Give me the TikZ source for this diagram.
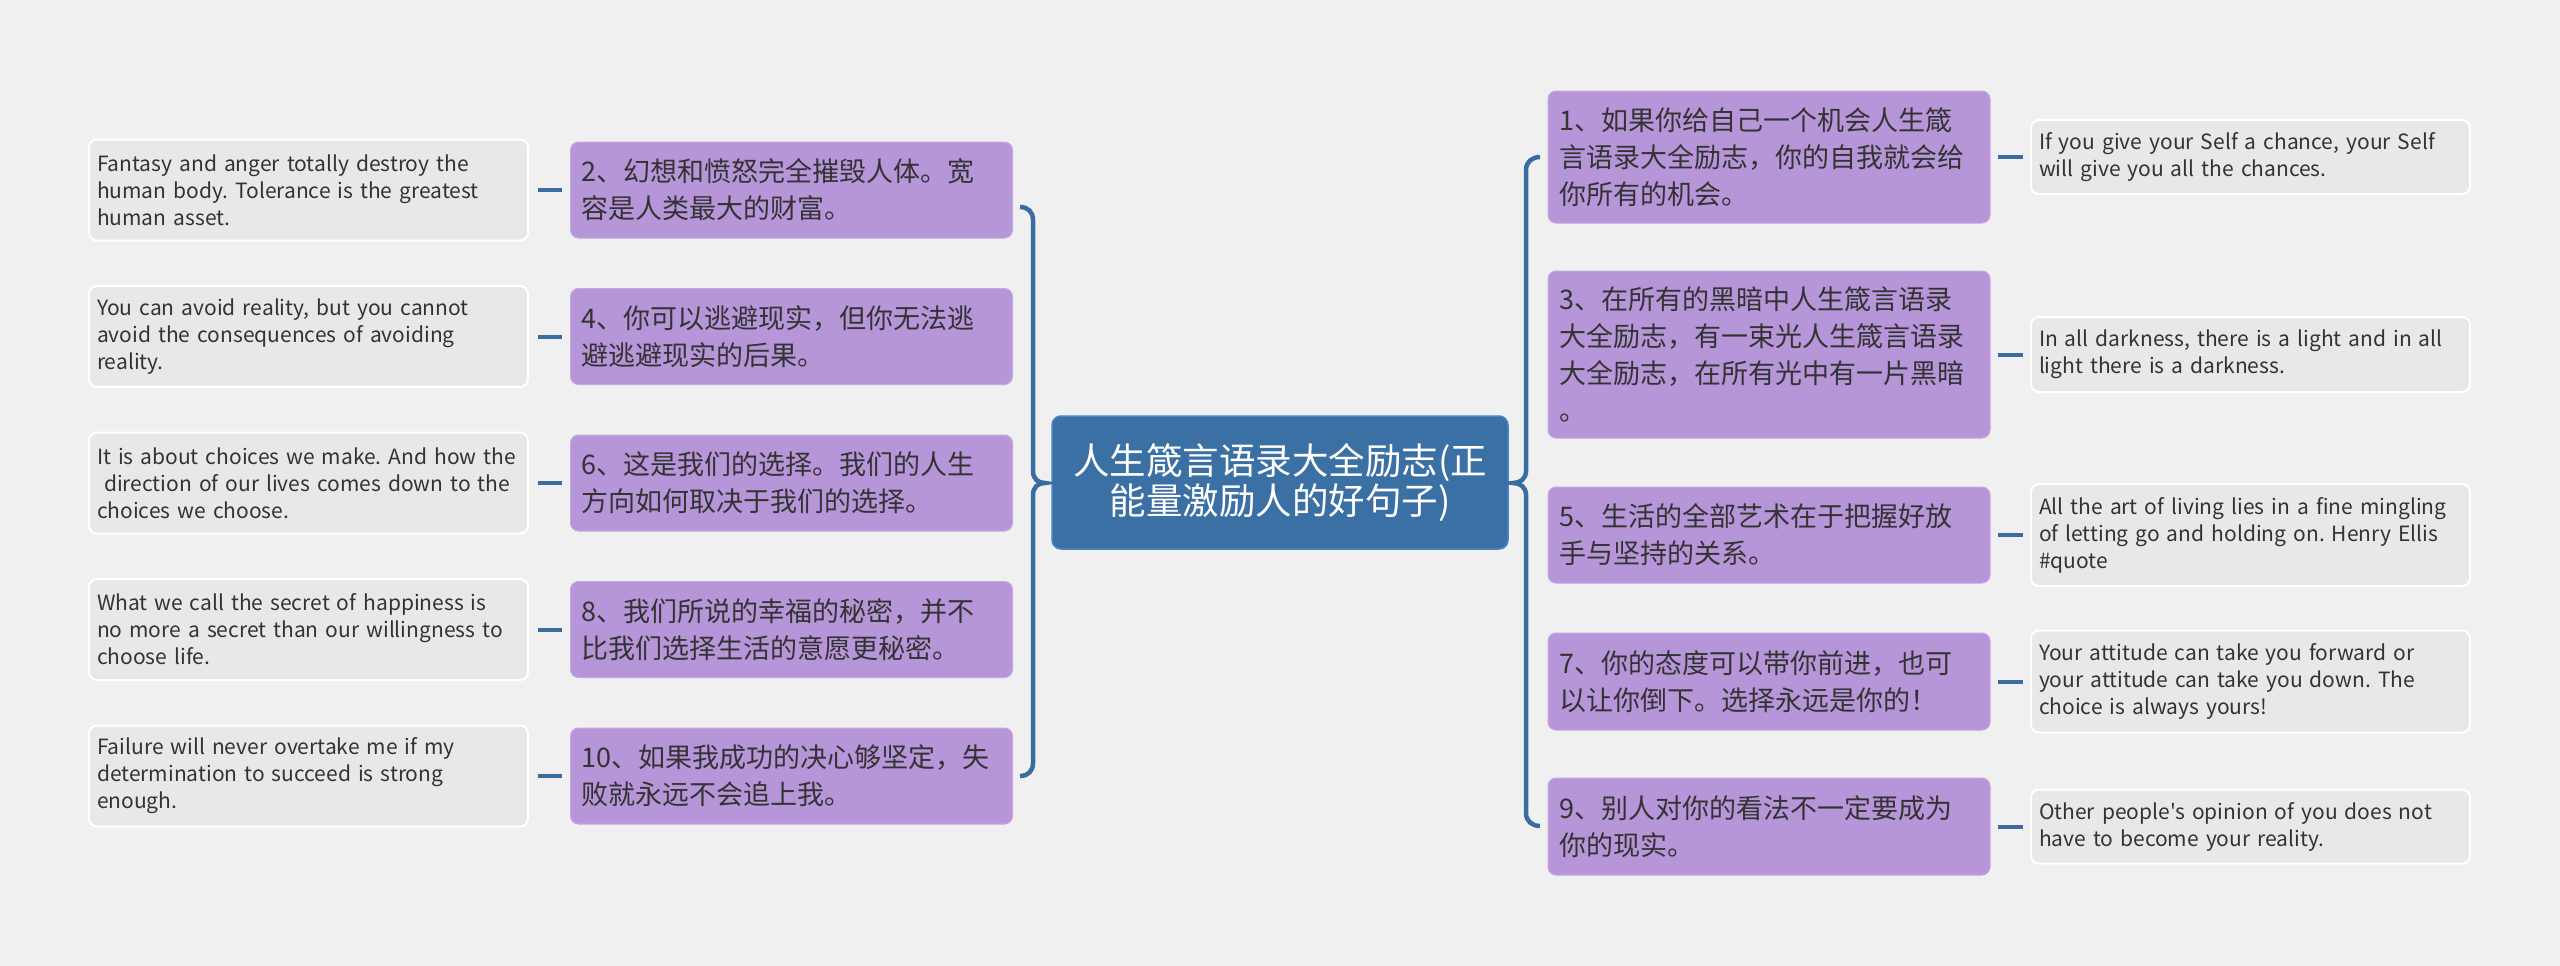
\documentclass[tikz,border=0pt]{standalone}
\usepackage{fontspec}
\setmainfont{Noto Sans CJK SC}
\newfontfamily\latinf{Noto Sans CJK SC}
\frenchspacing
\definecolor{bgc}{HTML}{F0F0F0}
\definecolor{bluec}{HTML}{3B70A4}
\definecolor{bluel}{HTML}{4A86C6}
\definecolor{linec}{HTML}{3A6D9F}
\definecolor{purc}{HTML}{B795D9}
\definecolor{purl}{HTML}{C3A8E0}
\definecolor{grayc}{HTML}{E8E8E8}
\definecolor{txtc}{HTML}{333333}
\begin{document}
\begin{tikzpicture}[x=1pt,y=-1pt,
  root/.style={rounded corners=9pt, fill=bluec, draw=bluel, line width=1.5pt, text=white,
    font=\fontsize{36.5}{40}\selectfont, align=center, minimum width=456pt, minimum height=133pt, inner sep=0pt},
  pbox/.style={rounded corners=8pt, fill=purc, draw=purl, line width=1pt, text=txtc,
    font=\fontsize{27}{37}\selectfont, align=left, text width=420pt, inner xsep=11pt, inner ysep=0pt},
  gbox/.style={rounded corners=8pt, fill=grayc, draw=white, line width=2pt, text=txtc,
    font=\latinf\fontsize{21}{27}\selectfont, align=left, text width=423pt, inner xsep=8pt, inner ysep=0pt},
  dashc/.style={draw=linec, line width=4pt},
  bracec/.style={draw=linec, line width=4.5pt}
]
\useasboundingbox[fill=bgc] (0,0) rectangle (2560,966);

% center
\node[root] (c) at (1280,482.5) {人生箴言语录大全励志(正\\能量激励人的好句子)};

% left purple
\node[pbox, minimum height=96pt] (p2) at (791.5,190) {2、幻想和愤怒完全摧毁人体。宽\\容是人类最大的财富。};
\node[pbox, minimum height=96pt] (p4) at (791.5,336.5) {4、你可以逃避现实，但你无法逃\\避逃避现实的后果。};
\node[pbox, minimum height=96pt] (p6) at (791.5,483) {6、这是我们的选择。我们的人生\\方向如何取决于我们的选择。};
\node[pbox, minimum height=96pt] (p8) at (791.5,629.5) {8、我们所说的幸福的秘密，并不\\比我们选择生活的意愿更秘密。};
\node[pbox, minimum height=96pt] (p10) at (791.5,776) {10、如果我成功的决心够坚定，失\\败就永远不会追上我。};

% left gray
\node[gbox, minimum height=101pt] (g2) at (308.5,190) {Fantasy and anger totally destroy the\\human body. Tolerance is the greatest\\human asset.};
\node[gbox, minimum height=101pt] (g4) at (308.5,336.5) {You can avoid reality, but you cannot\\avoid the consequences of avoiding\\reality.};
\node[gbox, minimum height=101pt] (g6) at (308.5,483) {It is about choices we make. And how the\\\ direction of our lives comes down to the\\choices we choose.};
\node[gbox, minimum height=101pt] (g8) at (308.5,629.5) {What we call the secret of happiness is\\no more a secret than our willingness to\\choose life.};
\node[gbox, minimum height=101pt] (g10) at (308.5,776) {Failure will never overtake me if my\\determination to succeed is strong\\enough.};

% right purple
\node[pbox, minimum height=132pt] (p1) at (1769,157) {1、如果你给自己一个机会人生箴\\言语录大全励志，你的自我就会给\\你所有的机会。};
\node[pbox, minimum height=167pt] (p3) at (1769,354.5) {3、在所有的黑暗中人生箴言语录\\大全励志，有一束光人生箴言语录\\大全励志，在所有光中有一片黑暗\\。};
\node[pbox, minimum height=96pt] (p5) at (1769,535) {5、生活的全部艺术在于把握好放\\手与坚持的关系。};
\node[pbox, minimum height=97pt] (p7) at (1769,681.5) {7、你的态度可以带你前进，也可\\以让你倒下。选择永远是你的！};
\node[pbox, minimum height=97pt] (p9) at (1769,826.5) {9、别人对你的看法不一定要成为\\你的现实。};

% right gray
\node[gbox, minimum height=74pt] (g1) at (2250.5,157) {If you give your Self a chance, your Self\\will give you all the chances.};
\node[gbox, minimum height=75pt] (g3) at (2250.5,354.5) {In all darkness, there is a light and in all\\light there is a darkness.};
\node[gbox, minimum height=102pt] (g5) at (2250.5,535) {All the art of living lies in a fine mingling\\of letting go and holding on. Henry Ellis\\\#quote};
\node[gbox, minimum height=102pt] (g7) at (2250.5,681.5) {Your attitude can take you forward or\\your attitude can take you down. The\\choice is always yours!};
\node[gbox, minimum height=74pt] (g9) at (2250.5,826.5) {Other people's opinion of you does not\\have to become your reality.};

% short connectors
\foreach \n in {2,4,6,8,10} \draw[dashc, shorten <=9pt, shorten >=8pt] (g\n.east) -- (p\n.west);
\foreach \n in {1,3,5,7,9} \draw[dashc, shorten <=7pt, shorten >=7pt] (p\n.east) -- (g\n.west);

% braces
\coordinate (lt) at (1020,207);
\coordinate (lb) at (1020,776);
\coordinate (ltip) at (1045,483);
\coordinate (rt) at (1540,157);
\coordinate (rb) at (1540,826);
\coordinate (rtip) at (1513,483);
\draw[bracec] (lt) .. controls (1028,207) and (1033,212) .. (1033,220) -- (1033,471)
  .. controls (1033,479) and (1038,483) .. (ltip)
  .. controls (1038,483) and (1033,487) .. (1033,495) -- (1033,763)
  .. controls (1033,771) and (1028,776) .. (lb);
\draw[bracec] (rt) .. controls (1532,157) and (1526,162) .. (1526,170) -- (1526,471)
  .. controls (1526,479) and (1520,483) .. (rtip)
  .. controls (1520,483) and (1526,487) .. (1526,495) -- (1526,813)
  .. controls (1526,821) and (1532,826) .. (rb);
\end{tikzpicture}
\end{document}
